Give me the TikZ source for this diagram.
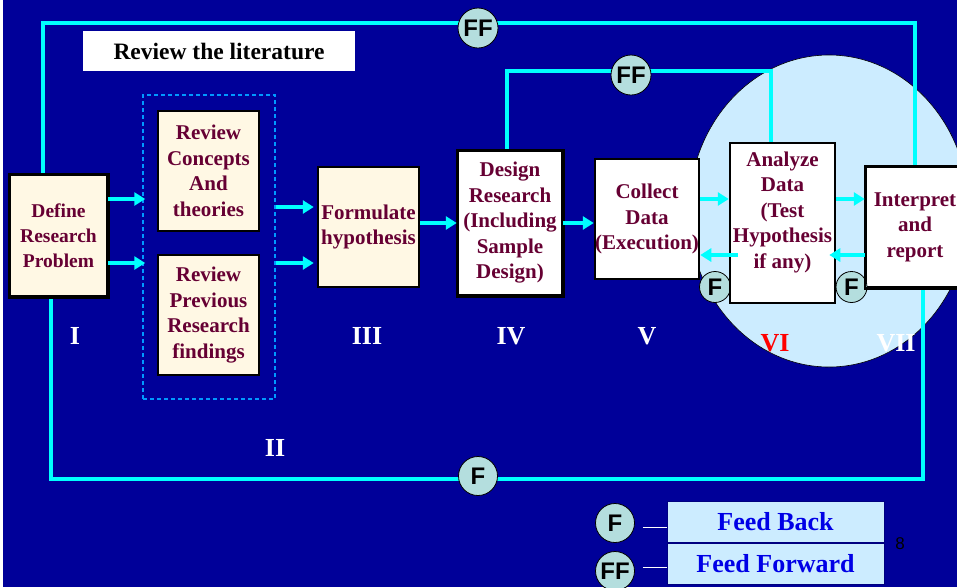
\documentclass[tikz,border=0pt]{standalone}
\usepackage{fontspec}
\setmainfont{Liberation Serif}
\newfontfamily\arialfont{Liberation Sans}
\usetikzlibrary{arrows.meta,calc}
\definecolor{bgblue}{RGB}{0,0,153}
\definecolor{cyanline}{RGB}{0,255,255}
\definecolor{cream}{RGB}{255,248,228}
\definecolor{maroonc}{RGB}{102,0,51}
\definecolor{lightblue}{RGB}{204,236,255}
\definecolor{circfill}{RGB}{180,222,222}
\definecolor{dashblue}{RGB}{0,153,255}
\definecolor{legtext}{RGB}{0,0,230}
\begin{document}
\begin{tikzpicture}[x=1pt,y=-1pt,
  box/.style={draw=black,line width=2.5pt,inner sep=0pt,align=center,text=maroonc,
    font=\fontsize{21}{25.5}\selectfont\bfseries},
  cbox/.style={box,fill=cream},
  wbox/.style={box,fill=white},
  btxt/.style={font=\fontsize{21}{25.5}\selectfont\bfseries,text=maroonc,align=center,inner sep=0pt},
  loopline/.style={draw=cyanline,line width=4pt},
  arr/.style={draw=cyanline,line width=4pt,-{Triangle[length=11pt,width=13pt]}},
  fcirc/.style={circle,draw=black,line width=0.8pt,fill=circfill,inner sep=0pt,
    font=\arialfont\fontsize{24}{24}\selectfont\bfseries,text=black},
  roman/.style={font=\fontsize{26}{26}\selectfont\bfseries,text=white,inner sep=0pt},
  legbox/.style={draw=blue!50!black,line width=0.8pt,fill=lightblue,minimum width=217pt,
    minimum height=41pt,inner sep=0pt,text=legtext,font=\fontsize{26}{26}\selectfont\bfseries},
]
\useasboundingbox (0,0) rectangle (957,587);
\clip (0,0) rectangle (957,587);
\fill[white] (0,0) rectangle (957,587);
\fill[bgblue] (3,0) rectangle (957,587);

% highlighted ellipse
\filldraw[fill=lightblue,draw=black,line width=0.6pt] (829,211) ellipse [x radius=140pt, y radius=156pt];

% review the literature
\node[fill=white,minimum width=272pt,minimum height=40pt,inner sep=0pt,
  font=\fontsize{23.5}{23.5}\selectfont\bfseries,text=black] (lit) at (219,51) {Review the literature};

% dashed group
\node[draw=dashblue,line width=1.5pt,dash pattern=on 4pt off 3pt,minimum width=132pt,
  minimum height=304pt,inner sep=0pt] (dash) at (209,247) {};

% corner coordinates of loops
\coordinate (tl) at (43,23);
\coordinate (tr) at (915,23);
\coordinate (ml) at (507,71);
\coordinate (mr) at (771,71);
\coordinate (bl) at (51,479);
\coordinate (br) at (923,479);

% boxes
\node[cbox,minimum width=97pt,minimum height=121pt,font=\fontsize{19.5}{25}\selectfont\bfseries] (def) at (58.5,235.5) {Define\\Research\\Problem};
\node[cbox,minimum width=101pt,minimum height=120pt] (rc) at (208.5,171) {Review\\Concepts\\And\\theories};
\node[cbox,minimum width=101pt,minimum height=120pt] (rp) at (208.5,315) {Review\\Previous\\Research\\findings};
\node[cbox,minimum width=101pt,minimum height=120pt] (fh) at (368.5,227) {Formulate\\hypothesis};
\node[wbox,minimum width=104pt,minimum height=144pt] (dr) at (510,223) {Design\\Research\\(Including\\Sample\\Design)};
\node[wbox,minimum width=104pt,minimum height=120pt] (cd) at (647,219) {Collect\\Data\\(Execution)};
\node[wbox,minimum width=98pt,minimum height=120pt] (ip) at (915,227) {Interpret\\and\\report};

% loop lines
\draw[loopline] (def.north -| tl) -- (tl) -- (tr) -- (ip.north -| tr);
\draw[loopline] (dr.north -| ml) -- (ml) -- (mr) -- (mr |- 0,143);
\draw[loopline] (def.south -| bl) -- (bl) -- (br) -- (ip.south -| br);

% small F circles
\node[fcirc,minimum size=31pt] (f1) at (715,287) {F};
\node[fcirc,minimum size=31pt] (f2) at (851.5,287) {F};

\node[wbox,minimum width=105pt,minimum height=160pt] (an) at (782.5,223) {};
\node[btxt] (antxt) at ($(an)+(0,-11)$) {Analyze\\Data\\(Test\\Hypothesis\\if any)};

% redraw box borders over loop lines
\foreach \b in {def,dr,ip}{\draw[line width=2.5pt] (\b.north west) rectangle (\b.south east);}

% loop circles
\node[fcirc,minimum size=40pt] (tff) at (478,28) {FF};
\node[fcirc,minimum size=40pt] (mff) at (631,75) {FF};
\node[fcirc,minimum size=39pt] (bf) at (478,476) {F};

% arrows
\draw[arr] (def.east |- 0,199) -- ($(dash.west |- 0,199)+(3,0)$);
\draw[arr] (def.east |- 0,263) -- ($(dash.west |- 0,263)+(3,0)$);
\draw[arr] (dash.east |- 0,207) -- ($(fh.west |- 0,207)+(-3,0)$);
\draw[arr] (dash.east |- 0,263) -- ($(fh.west |- 0,263)+(-3,0)$);
\draw[arr] (fh.east |- 0,223) -- (dr.west |- 0,223);
\draw[arr] (dr.east |- 0,223) -- (cd.west |- 0,223);
\draw[arr] (cd.east |- 0,199) -- (an.west |- 0,199);
\draw[arr] (an.east |- 0,199) -- (ip.west |- 0,199);
\draw[arr] (ip.west |- 0,255) -- ($(an.east |- 0,255)+(-7,0)$);
\draw[arr] ($(an.west |- 0,255)+(9,0)$) -- (cd.east |- 0,255);

% roman numerals
\node[roman] (r1) at (75,336) {I};
\node[roman] (r2) at (275,448) {II};
\node[roman] (r3) at (367,336) {III};
\node[roman] (r4) at (511,336) {IV};
\node[roman] (r5) at (647,336) {V};
\node[roman,text=red] (r6) at (775,343) {VI};
\node[roman] (r7) at (896,343) {VII};

% legend
\node[legbox] (fb) at (775.5,521.5) {Feed Back};
\node[legbox] (ffw) at (775.5,563.5) {Feed Forward};
\node[fcirc,minimum size=39pt] (lf) at (615,523) {F};
\node[fcirc,minimum size=39pt] (lff) at (615,571) {FF};
\draw[white,line width=1pt] ($(lf.east)+(8,4)$) -- (fb.west |- 0,527);
\draw[white,line width=1pt] ($(lff.east)+(8,-4)$) -- (ffw.west |- 0,567);
\node[font=\arialfont\fontsize{17}{17}\selectfont,text=black,inner sep=0pt] (pg) at (900,544) {8};
\end{tikzpicture}
\end{document}
